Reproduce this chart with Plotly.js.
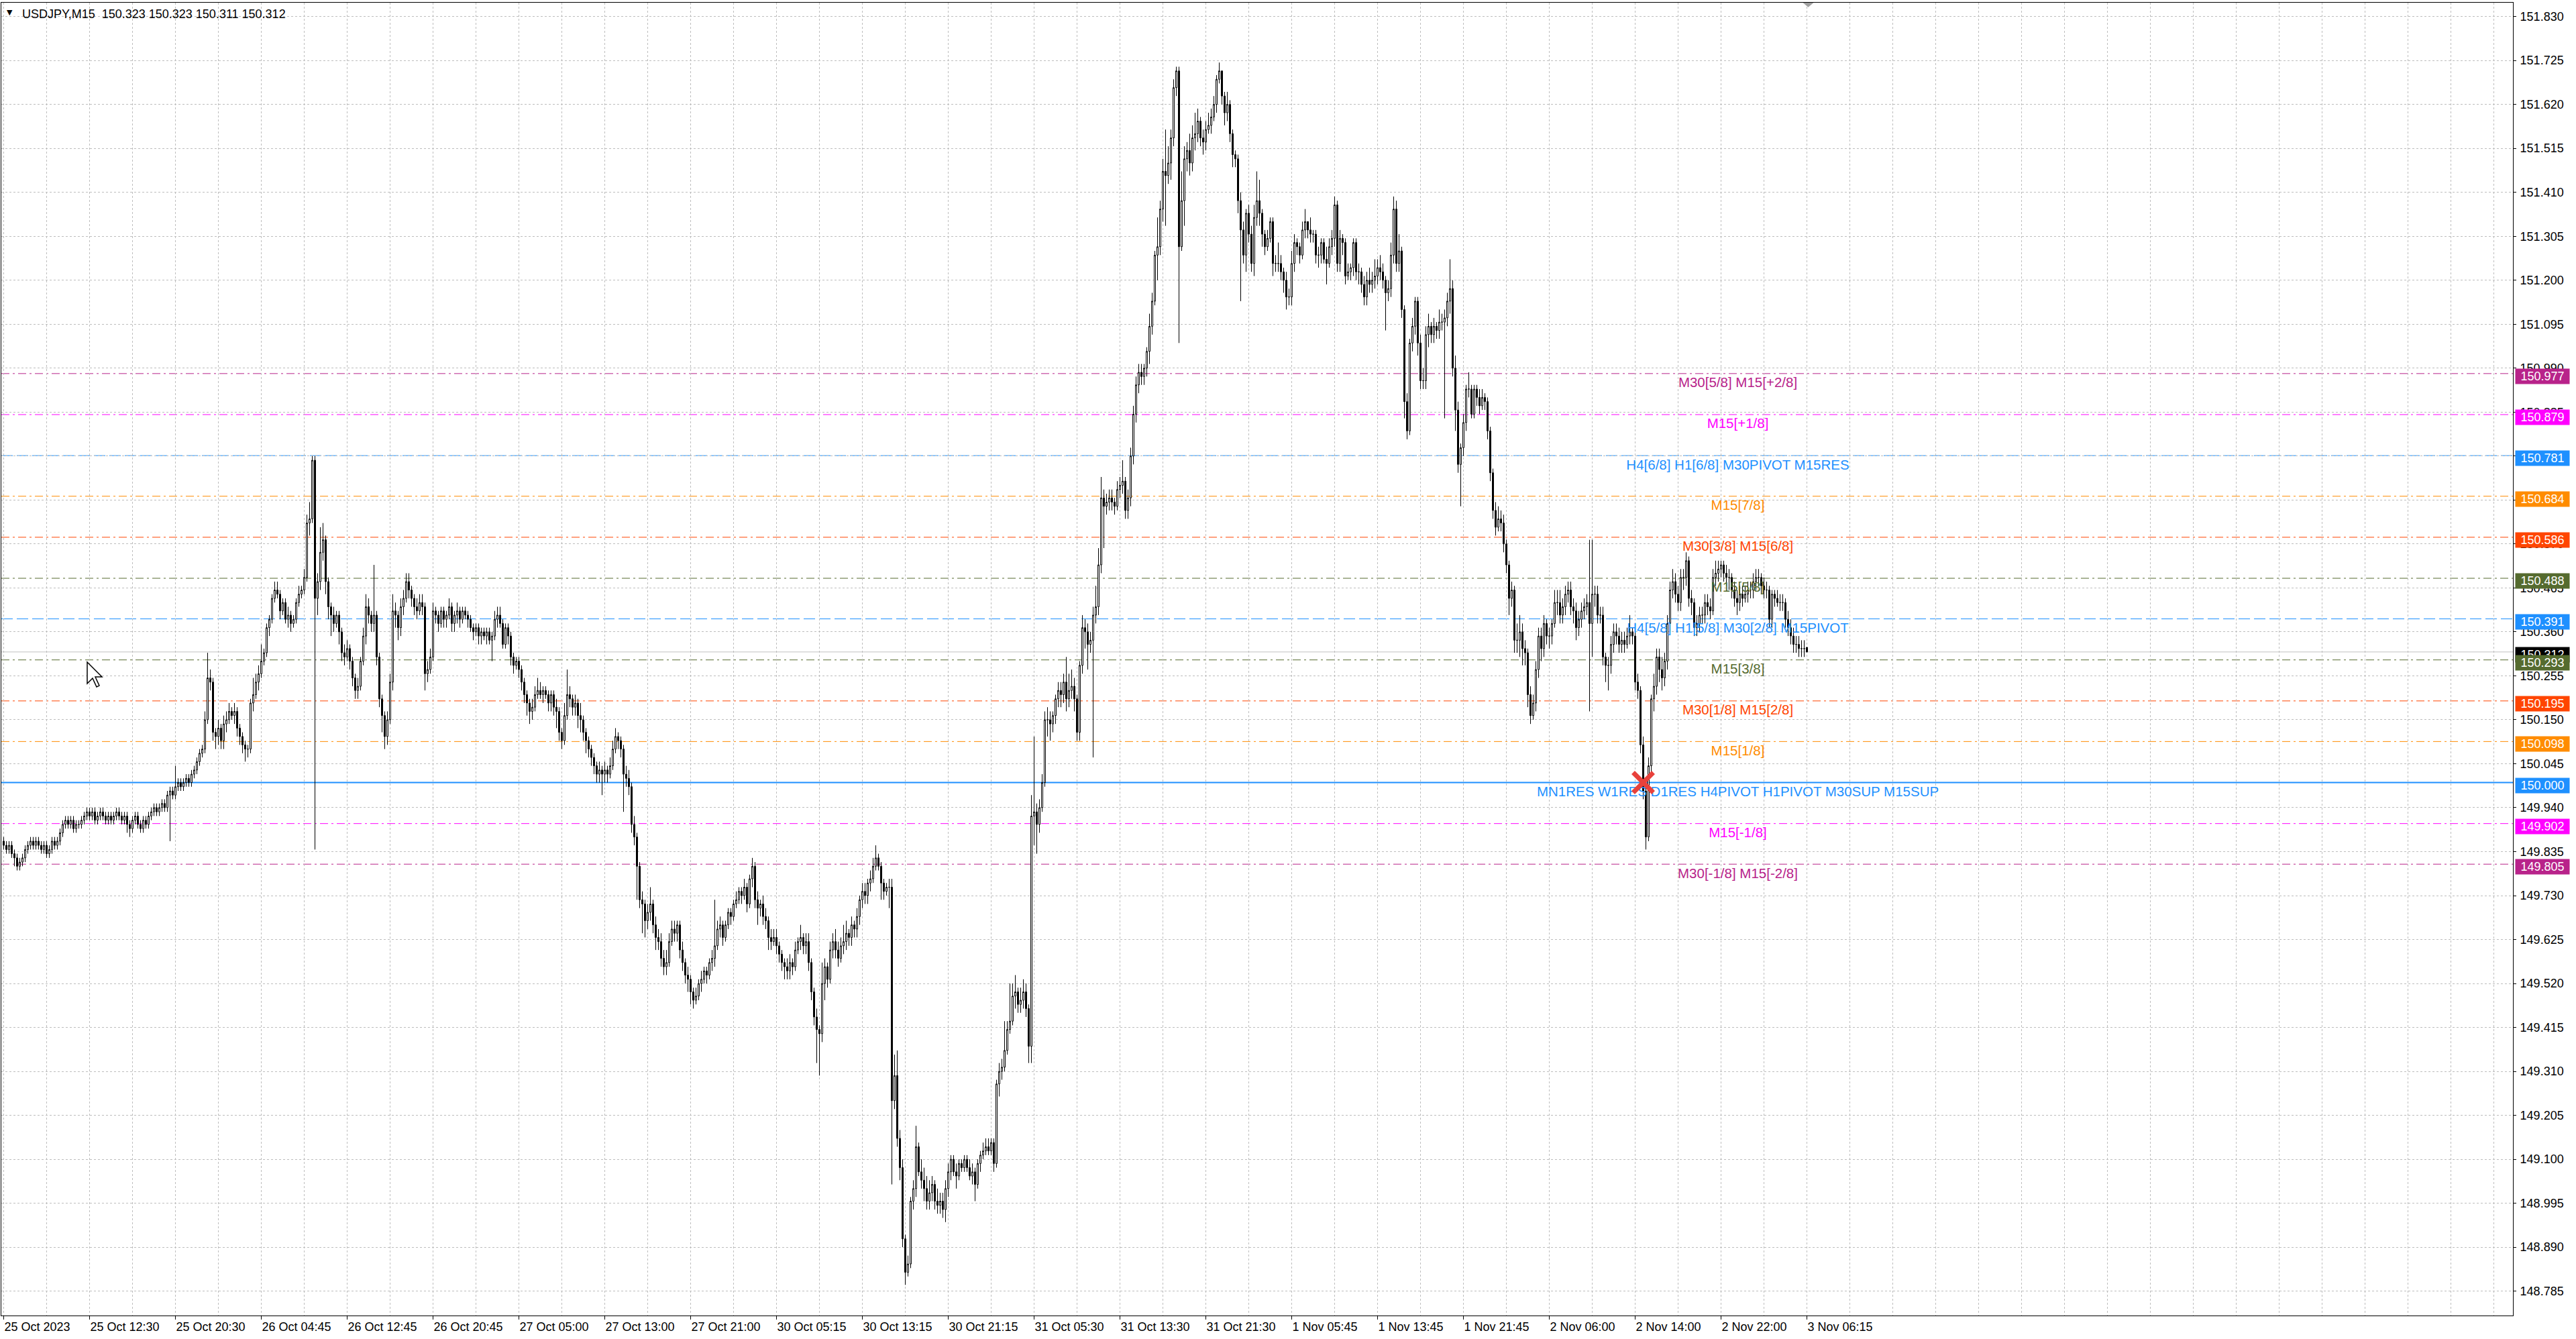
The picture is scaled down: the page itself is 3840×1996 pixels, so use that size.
<!DOCTYPE html>
<html>
<head>
<meta charset="utf-8">
<script src="https://cdn.plot.ly/plotly-3.0.1.min.js"></script>
<style>
html,body{margin:0;padding:0;background:#fff;}
#chart{width:3840px;height:1996px;}
</style>
</head>
<body>
<div id="chart"></div>
<script>
// ---------------- DATA (USDJPY, M15) ----------------
const open = [
149.86,149.85,149.84,149.85,149.83,149.82,149.80,149.81,149.82,149.84,
149.85,149.86,149.85,149.86,149.85,149.84,149.85,149.83,149.84,149.86,
149.85,149.86,149.88,149.90,149.91,149.90,149.91,149.89,149.90,149.90,
149.91,149.92,149.93,149.92,149.93,149.91,149.92,149.93,149.92,149.91,
149.92,149.91,149.92,149.93,149.92,149.91,149.92,149.90,149.89,149.91,
149.92,149.90,149.89,149.91,149.90,149.92,149.93,149.94,149.93,149.94,
149.95,149.94,149.97,149.98,149.97,149.99,150.00,149.99,150.00,150.01,
150.00,150.02,150.03,150.05,150.07,150.08,150.15,150.25,150.24,150.12,
150.11,150.13,150.10,150.14,150.15,150.17,150.16,150.17,150.13,150.11,
150.09,150.08,150.08,150.19,150.21,150.24,150.26,150.29,150.31,150.37,
150.39,150.44,150.46,150.45,150.41,150.43,150.39,150.40,150.38,150.39,
150.43,150.45,150.46,150.49,150.62,150.63,150.77,150.44,150.48,150.55,
150.58,150.48,150.42,150.40,150.38,150.40,150.36,150.31,150.30,150.32,
150.29,150.25,150.22,150.23,150.29,150.35,150.42,150.40,150.38,150.40,
150.30,150.20,150.16,150.11,150.15,150.24,150.41,150.40,150.37,150.42,
150.44,150.48,150.46,150.44,150.42,150.41,150.43,150.42,150.26,150.27,
150.30,150.41,150.40,150.38,150.41,150.39,150.40,150.42,150.38,150.40,
150.41,150.39,150.41,150.40,150.39,150.37,150.36,150.37,150.35,150.36,
150.35,150.36,150.34,150.35,150.39,150.40,150.38,150.33,150.37,150.35,
150.30,150.28,150.29,150.27,150.24,150.21,150.19,150.17,150.18,150.21,
150.22,150.21,150.22,150.21,150.19,150.21,150.18,150.17,150.12,150.10,
150.16,150.21,150.20,150.18,150.19,150.16,150.15,150.12,150.10,150.08,
150.06,150.04,150.02,150.03,150.02,150.03,150.02,150.04,150.08,150.11,
150.10,150.08,150.02,150.01,149.99,149.90,149.87,149.80,149.72,149.71,
149.67,149.69,149.71,149.66,149.63,149.62,149.58,149.56,149.57,149.62,
149.65,149.64,149.66,149.60,149.57,149.54,149.53,149.50,149.48,149.49,
149.52,149.53,149.55,149.54,149.57,149.58,149.61,149.65,149.66,149.63,
149.66,149.69,149.68,149.71,149.72,149.74,149.73,149.75,149.71,149.77,
149.80,149.72,149.70,149.71,149.68,149.67,149.63,149.62,149.63,149.61,
149.59,149.57,149.56,149.55,149.57,149.56,149.60,149.62,149.63,149.61,
149.62,149.57,149.50,149.44,149.41,149.40,149.52,149.56,149.53,149.60,
149.62,149.60,149.58,149.61,149.62,149.64,149.63,149.66,149.65,149.68,
149.72,149.74,149.73,149.76,149.77,149.80,149.82,149.80,149.76,149.74,
149.75,149.75,149.24,149.30,149.15,149.08,148.91,148.83,148.85,149.00,
149.03,149.13,149.07,149.05,149.03,149.00,149.02,149.04,149.00,148.99,
149.00,148.98,149.03,149.07,149.10,149.07,149.06,149.09,149.08,149.10,
149.08,149.06,149.07,149.04,149.09,149.11,149.12,149.13,149.12,149.14,
149.09,149.28,149.31,149.32,149.36,149.41,149.43,149.49,149.50,149.47,
149.48,149.50,149.46,149.37,149.92,149.93,149.90,149.94,150.00,150.15,
150.15,150.14,150.16,150.20,150.22,150.21,150.24,150.20,150.22,150.23,
150.20,150.12,150.28,150.37,150.36,150.33,150.34,150.40,150.42,150.52,
150.68,150.66,150.67,150.68,150.67,150.66,150.70,150.71,150.72,150.65,
150.68,150.78,150.88,150.95,150.98,150.97,150.99,151.03,151.09,151.15,
151.26,151.28,151.37,151.46,151.45,151.48,151.54,151.66,151.70,151.28,
151.39,151.49,151.51,151.48,151.54,151.55,151.58,151.54,151.53,151.56,
151.57,151.59,151.62,151.68,151.70,151.64,151.60,151.62,151.55,151.50,
151.49,151.39,151.32,151.26,151.36,151.31,151.24,151.35,151.39,151.36,
151.31,151.28,151.30,151.34,151.24,151.24,151.24,151.22,151.20,151.16,
151.16,151.24,151.29,151.28,151.26,151.32,151.34,151.32,151.31,151.31,
151.26,151.26,151.29,151.25,151.24,151.28,151.30,151.38,151.24,151.30,
151.29,151.21,151.22,151.23,151.29,151.22,151.22,151.19,151.16,151.20,
151.19,151.20,151.21,151.23,151.22,151.20,151.17,151.18,151.26,151.37,
151.24,151.27,151.13,150.91,150.84,151.05,151.09,151.15,151.05,150.96,
150.96,151.07,151.09,151.07,151.09,151.08,151.10,151.10,151.11,151.15,
151.18,150.99,150.89,150.76,150.80,150.86,150.94,150.94,150.88,150.94,
150.92,150.90,150.92,150.91,150.84,150.74,150.65,150.61,150.63,150.62,
150.57,150.52,150.44,150.46,150.34,150.34,150.36,150.32,150.31,150.21,
150.16,150.19,150.27,150.35,150.32,150.38,150.35,150.35,150.38,150.43,
150.43,150.40,150.42,150.45,150.46,150.42,150.41,150.37,150.39,150.41,
150.42,150.43,150.38,150.45,150.45,150.40,150.40,150.30,150.28,150.28,
150.33,150.36,150.35,150.33,150.34,150.33,150.35,150.36,150.35,150.24,
150.22,150.09,149.98,149.87,150.04,150.20,150.23,150.30,150.27,150.25,
150.29,150.38,150.46,150.48,150.45,150.43,150.49,150.49,150.53,150.44,
150.43,150.37,150.38,150.40,150.40,150.43,150.42,150.41,150.49,150.50,
150.51,150.52,150.50,150.49,150.49,150.46,150.44,150.43,150.45,150.44,
150.45,150.46,150.46,150.48,150.49,150.49,150.47,150.46,150.46,150.39,
150.45,150.44,150.43,150.43,150.43,150.39,150.37,150.35,150.33,150.33,
150.32,150.32,150.323
];
const high = [
149.87,149.86,149.86,149.86,149.84,149.83,149.82,149.83,149.85,149.86,
149.87,149.87,149.87,149.87,149.86,149.86,149.86,149.85,149.87,149.87,
149.87,149.89,149.91,149.92,149.92,149.92,149.92,149.91,149.91,149.92,
149.93,149.94,149.94,149.94,149.94,149.93,149.94,149.94,149.93,149.93,
149.93,149.93,149.94,149.94,149.93,149.93,149.93,149.91,149.92,149.93,
149.93,149.91,149.92,149.92,149.93,149.94,149.95,149.95,149.95,149.96,
149.96,149.98,149.99,149.99,150.04,150.01,150.01,150.01,150.02,150.02,
150.03,150.04,150.06,150.08,150.09,150.17,150.31,150.27,150.25,150.13,
150.15,150.14,150.16,150.17,150.19,150.18,150.19,150.18,150.14,150.12,
150.10,150.09,150.20,150.25,150.26,150.28,150.33,150.32,150.38,150.40,
150.45,150.48,150.48,150.46,150.44,150.44,150.42,150.41,150.40,150.44,
150.47,150.47,150.51,150.64,150.67,150.78,150.78,150.50,150.61,150.62,
150.59,150.49,150.43,150.42,150.41,150.41,150.37,150.33,150.34,150.33,
150.30,150.26,150.25,150.30,150.37,150.45,150.44,150.41,150.52,150.41,
150.31,150.21,150.17,150.17,150.26,150.45,150.43,150.41,150.44,150.46,
150.50,150.50,150.47,150.45,150.44,150.45,150.45,150.43,150.29,150.32,
150.43,150.42,150.41,150.42,150.42,150.41,150.44,150.43,150.41,150.43,
150.42,150.42,150.42,150.41,150.40,150.38,150.38,150.38,150.37,150.37,
150.37,150.37,150.36,150.41,150.42,150.42,150.39,150.38,150.38,150.36,
150.31,150.30,150.30,150.28,150.25,150.22,150.20,150.20,150.23,150.25,
150.24,150.23,150.23,150.22,150.22,150.22,150.20,150.18,150.13,150.19,
150.27,150.23,150.21,150.21,150.20,150.19,150.16,150.13,150.11,150.09,
150.07,150.05,150.05,150.04,150.05,150.04,150.06,150.10,150.13,150.12,
150.11,150.09,150.04,150.03,150.00,149.92,149.88,149.81,149.74,149.72,
149.71,149.75,149.72,149.68,149.65,149.64,149.60,149.60,149.64,149.67,
149.67,149.67,149.67,149.62,149.58,149.56,149.54,149.51,149.51,149.53,
149.55,149.56,149.56,149.58,149.60,149.72,149.67,149.68,149.67,149.67,
149.70,149.70,149.72,149.74,149.75,149.75,149.77,149.76,149.78,149.82,
149.81,149.74,149.72,149.73,149.70,149.68,149.65,149.65,149.65,149.62,
149.60,149.58,149.58,149.59,149.58,149.62,149.63,149.66,149.64,149.64,
149.64,149.58,149.51,149.46,149.42,149.57,149.58,149.57,149.62,149.64,
149.65,149.62,149.63,149.66,149.67,149.65,149.68,149.67,149.70,149.73,
149.76,149.76,149.77,149.79,149.82,149.85,149.83,149.81,149.77,149.76,
149.77,149.77,149.35,149.36,149.17,149.10,148.92,148.87,149.01,149.05,
149.18,149.14,149.10,149.08,149.06,149.05,149.06,149.05,149.03,149.02,
149.02,149.05,149.09,149.11,149.11,149.09,149.10,149.10,149.11,149.11,
149.10,149.09,149.08,149.10,149.12,149.14,149.15,149.15,149.15,149.15,
149.29,149.33,149.34,149.43,149.43,149.52,149.52,149.54,149.51,149.51,
149.53,149.52,149.47,149.97,150.11,149.95,149.96,150.02,150.17,150.18,
150.17,150.17,150.21,150.24,150.24,150.26,150.30,150.26,150.27,150.25,
150.21,150.29,150.40,150.39,150.38,150.36,150.42,150.47,150.56,150.73,
150.70,150.69,150.70,150.70,150.68,150.72,150.73,150.77,150.73,150.70,
150.80,150.90,150.97,151.00,151.00,151.00,151.04,151.12,151.17,151.27,
151.35,151.39,151.49,151.56,151.52,151.56,151.68,151.71,151.71,151.46,
151.52,151.53,151.55,151.57,151.60,151.61,151.59,151.56,151.58,151.60,
151.61,151.64,151.69,151.72,151.66,151.65,151.65,151.63,151.56,151.51,
151.50,151.41,151.34,151.37,151.38,151.33,151.38,151.46,151.44,151.37,
151.32,151.32,151.35,151.35,151.26,151.29,151.26,151.23,151.22,151.18,
151.27,151.31,151.30,151.29,151.34,151.37,151.34,151.35,151.32,151.32,
151.28,151.30,151.30,151.28,151.30,151.32,151.40,151.39,151.32,151.31,
151.30,151.24,151.24,151.30,151.30,151.24,151.23,151.21,151.22,151.23,
151.22,151.25,151.25,151.26,151.24,151.21,151.20,151.29,151.40,151.39,
151.31,151.28,151.14,150.93,151.06,151.11,151.16,151.16,151.07,150.99,
151.09,151.12,151.10,151.11,151.10,151.13,151.12,151.13,151.17,151.25,
151.20,151.02,150.91,150.81,150.88,150.95,150.98,150.95,150.95,150.95,
150.94,150.94,150.93,150.92,150.85,150.75,150.67,150.66,150.65,150.64,
150.58,150.53,150.48,150.47,150.38,150.40,150.38,150.34,150.32,150.23,
150.21,150.29,150.37,150.37,150.40,150.39,150.37,150.39,150.46,150.46,
150.46,150.44,150.47,150.48,150.48,150.44,150.43,150.41,150.43,150.44,
150.45,150.58,150.58,150.47,150.47,150.42,150.42,150.31,150.30,150.35,
150.38,150.38,150.37,150.36,150.36,150.37,150.40,150.37,150.36,150.26,
150.23,150.11,150.00,150.06,150.21,150.26,150.32,150.32,150.30,150.31,
150.40,150.48,150.51,150.50,150.47,150.51,150.51,150.55,150.54,150.46,
150.44,150.40,150.42,150.42,150.45,150.45,150.44,150.51,150.53,150.53,
150.53,150.53,150.52,150.51,150.50,150.48,150.46,150.47,150.47,150.47,
150.48,150.48,150.50,150.51,150.51,150.50,150.49,150.48,150.47,150.46,
150.46,150.46,150.45,150.45,150.44,150.41,150.39,150.37,150.35,150.35,
150.34,150.34,150.323
];
const low = [
149.84,149.83,149.83,149.82,149.80,149.79,149.79,149.80,149.81,149.83,
149.84,149.84,149.84,149.84,149.83,149.83,149.82,149.82,149.83,149.84,
149.84,149.85,149.87,149.89,149.89,149.89,149.88,149.88,149.89,149.89,
149.90,149.91,149.91,149.91,149.90,149.90,149.91,149.91,149.90,149.90,
149.90,149.90,149.91,149.91,149.90,149.90,149.88,149.87,149.88,149.90,
149.89,149.88,149.88,149.89,149.89,149.91,149.92,149.92,149.92,149.93,
149.93,149.93,149.86,149.96,149.96,149.98,149.98,149.98,149.99,149.99,
149.99,150.01,150.02,150.04,150.06,150.07,150.14,150.22,150.10,150.08,
150.09,150.08,150.08,150.12,150.14,150.15,150.14,150.11,150.09,150.07,
150.05,150.06,150.07,150.17,150.20,150.22,150.25,150.28,150.30,150.35,
150.38,150.43,150.44,150.39,150.40,150.38,150.37,150.36,150.37,150.38,
150.42,150.44,150.45,150.48,150.59,150.62,149.84,150.40,150.46,150.53,
150.45,150.39,150.35,150.36,150.37,150.33,150.29,150.28,150.29,150.27,
150.23,150.20,150.20,150.22,150.28,150.33,150.38,150.36,150.36,150.28,
150.18,150.12,150.08,150.09,150.14,150.22,150.37,150.34,150.35,150.40,
150.43,150.44,150.42,150.40,150.39,150.40,150.40,150.22,150.24,150.26,
150.29,150.38,150.36,150.37,150.37,150.37,150.39,150.36,150.36,150.38,
150.37,150.38,150.39,150.37,150.36,150.34,150.35,150.33,150.33,150.34,
150.33,150.33,150.29,150.34,150.37,150.37,150.32,150.32,150.33,150.28,
150.26,150.27,150.25,150.22,150.19,150.16,150.14,150.15,150.17,150.20,
150.20,150.19,150.20,150.17,150.17,150.16,150.13,150.10,150.08,150.09,
150.15,150.18,150.16,150.16,150.13,150.12,150.10,150.07,150.06,150.04,
150.02,150.00,150.00,149.97,150.00,150.00,150.01,150.03,150.07,150.08,
150.06,149.93,149.99,149.97,149.88,149.85,149.72,149.70,149.64,149.63,
149.65,149.67,149.64,149.60,149.60,149.56,149.54,149.54,149.56,149.61,
149.62,149.62,149.58,149.55,149.52,149.50,149.47,149.46,149.47,149.48,
149.50,149.52,149.52,149.53,149.55,149.56,149.60,149.63,149.61,149.62,
149.65,149.66,149.67,149.70,149.71,149.71,149.72,149.69,149.70,149.75,
149.70,149.66,149.68,149.66,149.65,149.60,149.60,149.61,149.59,149.57,
149.55,149.53,149.53,149.53,149.54,149.55,149.59,149.60,149.59,149.59,
149.55,149.48,149.42,149.33,149.30,149.38,149.48,149.51,149.52,149.58,
149.58,149.56,149.57,149.59,149.60,149.61,149.61,149.63,149.63,149.66,
149.70,149.71,149.71,149.74,149.76,149.79,149.79,149.72,149.72,149.73,
149.70,149.04,149.22,149.13,149.05,148.89,148.80,148.82,148.84,148.98,
149.01,149.06,149.03,149.00,148.98,148.98,149.00,148.98,148.97,148.97,
148.96,148.95,149.01,149.05,149.06,149.03,149.05,149.07,149.07,149.07,
149.05,149.04,149.00,149.03,149.07,149.10,149.11,149.11,149.11,149.07,
149.08,149.25,149.29,149.31,149.35,149.40,149.42,149.46,149.45,149.45,
149.46,149.44,149.33,149.33,149.85,149.83,149.88,149.93,149.99,150.11,
150.10,150.12,150.14,150.18,150.18,150.19,150.17,150.18,150.20,150.17,
150.10,150.10,150.26,150.32,150.27,150.31,150.06,150.38,150.40,150.50,
150.56,150.64,150.65,150.65,150.64,150.65,150.68,150.69,150.63,150.63,
150.66,150.76,150.86,150.93,150.95,150.95,150.97,151.00,151.07,151.14,
151.20,151.26,151.34,151.33,151.43,151.44,151.52,151.64,151.05,151.27,
151.33,151.46,151.45,151.46,151.51,151.53,151.52,151.50,151.51,151.55,
151.55,151.58,151.60,151.67,151.62,151.57,151.58,151.53,151.47,151.47,
151.36,151.15,151.24,151.22,151.29,151.22,151.21,151.33,151.33,151.28,
151.26,151.27,151.29,151.21,151.22,151.22,151.20,151.17,151.13,151.14,
151.14,151.22,151.26,151.24,151.25,151.30,151.30,151.29,151.29,151.24,
151.23,151.24,151.24,151.19,151.23,151.26,151.28,151.22,151.22,151.26,
151.19,151.20,151.20,151.21,151.20,151.19,151.17,151.14,151.14,151.17,
151.17,151.18,151.19,151.20,151.18,151.08,151.15,151.16,151.24,151.22,
151.22,151.11,150.87,150.82,150.83,151.03,151.07,151.02,150.94,150.94,
150.94,151.04,151.05,151.05,151.06,151.06,151.08,150.87,151.09,151.12,
150.97,150.84,150.74,150.66,150.78,150.84,150.92,150.87,150.87,150.90,
150.88,150.89,150.89,150.82,150.72,150.63,150.59,150.60,150.60,150.55,
150.50,150.40,150.42,150.31,150.31,150.30,150.28,150.28,150.18,150.14,
150.15,150.17,150.25,150.29,150.30,150.33,150.32,150.33,150.37,150.40,
150.38,150.38,150.40,150.43,150.40,150.38,150.34,150.35,150.37,150.39,
150.40,150.17,150.30,150.42,150.38,150.38,150.28,150.24,150.22,150.26,
150.31,150.33,150.31,150.31,150.31,150.32,150.33,150.33,150.22,150.20,
150.07,149.96,149.84,149.86,150.02,150.17,150.21,150.24,150.22,150.23,
150.27,150.36,150.44,150.43,150.41,150.41,150.46,150.47,150.42,150.40,
150.35,150.35,150.36,150.38,150.38,150.40,150.39,150.40,150.47,150.48,
150.49,150.48,150.47,150.46,150.44,150.42,150.40,150.41,150.42,150.43,
150.43,150.44,150.44,150.46,150.47,150.45,150.44,150.44,150.37,150.37,
150.42,150.42,150.41,150.41,150.37,150.35,150.33,150.31,150.31,150.30,
150.30,150.30,150.311
];
const close = [
149.85,149.84,149.85,149.83,149.82,149.80,149.81,149.82,149.84,149.85,
149.86,149.85,149.86,149.85,149.84,149.85,149.83,149.84,149.86,149.85,
149.86,149.88,149.90,149.91,149.90,149.91,149.89,149.90,149.90,149.91,
149.92,149.93,149.92,149.93,149.91,149.92,149.93,149.92,149.91,149.92,
149.91,149.92,149.93,149.92,149.91,149.92,149.90,149.89,149.91,149.92,
149.90,149.89,149.91,149.90,149.92,149.93,149.94,149.93,149.94,149.95,
149.94,149.97,149.98,149.97,149.99,150.00,149.99,150.00,150.01,150.00,
150.02,150.03,150.05,150.07,150.08,150.15,150.25,150.24,150.12,150.11,
150.13,150.10,150.14,150.15,150.17,150.16,150.17,150.13,150.11,150.09,
150.08,150.08,150.19,150.21,150.24,150.26,150.29,150.31,150.37,150.39,
150.44,150.46,150.45,150.41,150.43,150.39,150.40,150.38,150.39,150.43,
150.45,150.46,150.49,150.62,150.63,150.77,150.44,150.48,150.55,150.58,
150.48,150.42,150.40,150.38,150.40,150.36,150.31,150.30,150.32,150.29,
150.25,150.22,150.23,150.29,150.35,150.42,150.40,150.38,150.40,150.30,
150.20,150.16,150.11,150.15,150.24,150.41,150.40,150.37,150.42,150.44,
150.48,150.46,150.44,150.42,150.41,150.43,150.42,150.26,150.27,150.30,
150.41,150.40,150.38,150.41,150.39,150.40,150.42,150.38,150.40,150.41,
150.39,150.41,150.40,150.39,150.37,150.36,150.37,150.35,150.36,150.35,
150.36,150.34,150.35,150.39,150.40,150.38,150.33,150.37,150.35,150.30,
150.28,150.29,150.27,150.24,150.21,150.19,150.17,150.18,150.21,150.22,
150.21,150.22,150.21,150.19,150.21,150.18,150.17,150.12,150.10,150.16,
150.21,150.20,150.18,150.19,150.16,150.15,150.12,150.10,150.08,150.06,
150.04,150.02,150.03,150.02,150.03,150.02,150.04,150.08,150.11,150.10,
150.08,150.02,150.01,149.99,149.90,149.87,149.80,149.72,149.71,149.67,
149.69,149.71,149.66,149.63,149.62,149.58,149.56,149.57,149.62,149.65,
149.64,149.66,149.60,149.57,149.54,149.53,149.50,149.48,149.49,149.52,
149.53,149.55,149.54,149.57,149.58,149.61,149.65,149.66,149.63,149.66,
149.69,149.68,149.71,149.72,149.74,149.73,149.75,149.71,149.77,149.80,
149.72,149.70,149.71,149.68,149.67,149.63,149.62,149.63,149.61,149.59,
149.57,149.56,149.55,149.57,149.56,149.60,149.62,149.63,149.61,149.62,
149.57,149.50,149.44,149.41,149.40,149.52,149.56,149.53,149.60,149.62,
149.60,149.58,149.61,149.62,149.64,149.63,149.66,149.65,149.68,149.72,
149.74,149.73,149.76,149.77,149.80,149.82,149.80,149.76,149.74,149.75,
149.75,149.24,149.30,149.15,149.08,148.91,148.83,148.85,149.00,149.03,
149.13,149.07,149.05,149.03,149.00,149.02,149.04,149.00,148.99,149.00,
148.98,149.03,149.07,149.10,149.07,149.06,149.09,149.08,149.10,149.08,
149.06,149.07,149.04,149.09,149.11,149.12,149.13,149.12,149.14,149.09,
149.28,149.31,149.32,149.36,149.41,149.43,149.49,149.50,149.47,149.48,
149.50,149.46,149.37,149.92,149.93,149.90,149.94,150.00,150.15,150.15,
150.14,150.16,150.20,150.22,150.21,150.24,150.20,150.22,150.23,150.20,
150.12,150.28,150.37,150.36,150.33,150.34,150.40,150.42,150.52,150.68,
150.66,150.67,150.68,150.67,150.66,150.70,150.71,150.72,150.65,150.68,
150.78,150.88,150.95,150.98,150.97,150.99,151.03,151.09,151.15,151.26,
151.28,151.37,151.46,151.45,151.48,151.54,151.66,151.70,151.28,151.39,
151.49,151.51,151.48,151.54,151.55,151.58,151.54,151.53,151.56,151.57,
151.59,151.62,151.68,151.70,151.64,151.60,151.62,151.55,151.50,151.49,
151.39,151.32,151.26,151.36,151.31,151.24,151.35,151.39,151.36,151.31,
151.28,151.30,151.34,151.24,151.24,151.24,151.22,151.20,151.16,151.16,
151.24,151.29,151.28,151.26,151.32,151.34,151.32,151.31,151.31,151.26,
151.26,151.29,151.25,151.24,151.28,151.30,151.38,151.24,151.30,151.29,
151.21,151.22,151.23,151.29,151.22,151.22,151.19,151.16,151.20,151.19,
151.20,151.21,151.23,151.22,151.20,151.17,151.18,151.26,151.37,151.24,
151.27,151.13,150.91,150.84,151.05,151.09,151.15,151.05,150.96,150.96,
151.07,151.09,151.07,151.09,151.08,151.10,151.10,151.11,151.15,151.18,
150.99,150.89,150.76,150.80,150.86,150.94,150.94,150.88,150.94,150.92,
150.90,150.92,150.91,150.84,150.74,150.65,150.61,150.63,150.62,150.57,
150.52,150.44,150.46,150.34,150.34,150.36,150.32,150.31,150.21,150.16,
150.19,150.27,150.35,150.32,150.38,150.35,150.35,150.38,150.43,150.43,
150.40,150.42,150.45,150.46,150.42,150.41,150.37,150.39,150.41,150.42,
150.43,150.38,150.45,150.45,150.40,150.40,150.30,150.28,150.28,150.33,
150.36,150.35,150.33,150.34,150.33,150.35,150.36,150.35,150.24,150.22,
150.09,149.98,149.87,150.04,150.20,150.23,150.30,150.27,150.25,150.29,
150.38,150.46,150.48,150.45,150.43,150.49,150.49,150.53,150.44,150.43,
150.37,150.38,150.40,150.40,150.43,150.42,150.41,150.49,150.50,150.51,
150.52,150.50,150.49,150.49,150.46,150.44,150.43,150.45,150.44,150.45,
150.46,150.46,150.48,150.49,150.49,150.47,150.46,150.46,150.39,150.45,
150.44,150.43,150.43,150.43,150.39,150.37,150.35,150.33,150.33,150.32,
150.32,150.32,150.312
];

// time labels (one every 32 bars)
const timeLabels = ['25 Oct 2023','25 Oct 12:30','25 Oct 20:30','26 Oct 04:45','26 Oct 12:45','26 Oct 20:45',
  '27 Oct 05:00','27 Oct 13:00','27 Oct 21:00','30 Oct 05:15','30 Oct 13:15','30 Oct 21:15',
  '31 Oct 05:30','31 Oct 13:30','31 Oct 21:30','1 Nov 05:45','1 Nov 13:45','1 Nov 21:45',
  '2 Nov 06:00','2 Nov 14:00','2 Nov 22:00','3 Nov 06:15'];
const priceTicks = [148.785,148.890,148.995,149.100,149.205,149.310,149.415,149.520,149.625,149.730,
  149.835,149.940,150.045,150.150,150.255,150.360,150.465,150.570,150.675,150.780,
  150.885,150.990,151.095,151.200,151.305,151.410,151.515,151.620,151.725,151.830];

// Murrey / pivot levels
const levelPrices = [150.977,150.879,150.781,150.684,150.586,150.488,150.391,150.293,150.195,150.098,150.000,149.902,149.805];
const levelNames = ['M30[5/8] M15[+2/8]','M15[+1/8]','H4[6/8] H1[6/8] M30PIVOT M15RES','M15[7/8]','M30[3/8] M15[6/8]',
  'M15[5/8]','H4[5/8] H1[5/8] M30[2/8] M15PIVOT','M15[3/8]','M30[1/8] M15[2/8]','M15[1/8]',
  'MN1RES W1RES D1RES H4PIVOT H1PIVOT M30SUP M15SUP','M15[-1/8]','M30[-1/8] M15[-2/8]'];
const levelKinds = ['violet','magenta','blue','orange','red','olive','blue','olive','red','orange','main','magenta','violet'];
const lastPrice = 150.312;
const signalBar = [611];
const signalPrice = [150.000];
const titleText = 'USDJPY,M15\u00a0\u00a0150.323 150.323 150.311 150.312';

// ---------------- STYLES / GEOMETRY ----------------
const kindStyle = {
  violet:  {color:'#B8238A', dash:'12px,5px,3px,5px', width:1},
  magenta: {color:'#FF00FF', dash:'12px,5px,3px,5px', width:1},
  blue:    {color:'#1E90FF', dash:'17px,6px', width:1},
  orange:  {color:'#FF8C00', dash:'12px,5px,3px,5px', width:1},
  red:     {color:'#FF4500', dash:'12px,5px,3px,5px', width:1},
  olive:   {color:'#556B2F', dash:'12px,5px,3px,5px', width:1},
  main:    {color:'#1E90FF', dash:'solid', width:2}
};
const UI_FONT = 'Liberation Sans, Arial, sans-serif';
const LABEL_BAR = 646.25;
const GRID = '#BDBDBD';
const W = 3840, H = 1996;
const M = {l:2, r:94, t:4, b:35};
const PLOT_W = W - M.l - M.r, PLOT_H = H - M.t - M.b;
const Y_RANGE = [148.7268, 151.8630];
const PX_PER_PRICE = PLOT_H / (Y_RANGE[1] - Y_RANGE[0]);
const LABEL_DROP = 5 / PX_PER_PRICE;   // labels sit a few px lower under their line

const bars = close.map((_, i) => i);
const tickBars = timeLabels.map((_, i) => i * 32);

const candles = {
  type:'candlestick', x:bars, open:open, high:high, low:low, close:close,
  increasing:{line:{color:'#000000', width:1}, fillcolor:'#FFFFFF'},
  decreasing:{line:{color:'#000000', width:1}, fillcolor:'#000000'},
  whiskerwidth:0, hoverinfo:'skip', showlegend:false
};

const levelText = {
  type:'scatter', mode:'text', x:levelPrices.map(() => LABEL_BAR), y:levelPrices.map(p => p - LABEL_DROP),
  text:levelNames, textposition:'bottom center',
  textfont:{family:UI_FONT, size:20.5, color:levelKinds.map(k => kindStyle[k].color)},
  hoverinfo:'skip', showlegend:false, cliponaxis:false
};

const signal = {
  type:'scatter', mode:'markers', x:signalBar, y:signalPrice,
  marker:{symbol:'x-thin-open', size:30, color:'#E8413B', line:{width:7, color:'#E8413B'}},
  hoverinfo:'skip', showlegend:false
};

const shapes = levelPrices.map((p, i) => {
  const s = kindStyle[levelKinds[i]];
  return {type:'line', xref:'paper', x0:0, x1:1, yref:'y', y0:p, y1:p, layer:'below',
          line:{color:s.color, width:s.width, dash:s.dash}};
});
shapes.push({type:'line', xref:'paper', x0:0, x1:1, yref:'y', y0:lastPrice, y1:lastPrice, layer:'below',
             line:{color:'#C0C0C0', width:1}});
// chart-shift marker at top over the last bar
const lastIdx = close.length - 1;
shapes.push({type:'path', xref:'x', yref:'paper',
  path:`M ${lastIdx - 1.5},1 L ${lastIdx + 2.5},1 L ${lastIdx + 0.5},0.9965 Z`,
  fillcolor:'#A0A0A0', line:{width:0}, layer:'above'});
// mouse pointer left on the chart (screen decoration), outline given in screen pixels
const cursorTip = [130, 987];
const cursorOutline = [[0,0],[0,32],[8,24],[14,37],[18,35],[12,22],[22,22]];
const toPaper = ([dx, dy]) => [((cursorTip[0] + dx) - M.l) / PLOT_W, 1 - ((cursorTip[1] + dy) - M.t) / PLOT_H];
shapes.push({type:'path', xref:'paper', yref:'paper', layer:'above',
  path:'M ' + cursorOutline.map(p => toPaper(p).join(',')).join(' L ') + ' Z',
  fillcolor:'#FFFFFF', line:{color:'#000000', width:1.5}});

function priceBox(p, color) {
  return {xref:'paper', x:1, xanchor:'left', xshift:3, yref:'y', y:p, yanchor:'middle', yshift:-4,
    text:p.toFixed(3), showarrow:false, bgcolor:color, width:80, height:22, borderpad:0,
    align:'center', font:{family:UI_FONT, size:18, color:'#FFFFFF'}};
}
const annotations = [priceBox(lastPrice, '#000000')];
levelPrices.forEach((p, i) => annotations.push(priceBox(p, kindStyle[levelKinds[i]].color)));
annotations.push({xref:'paper', yref:'paper', x:0.0016, y:0.9925, xanchor:'left', yanchor:'middle',
  text:'▼', showarrow:false, font:{family:'DejaVu Sans', size:11, color:'#000'}});

const layout = {
  width:W, height:H,
  margin:{l:M.l, r:M.r, t:M.t, b:M.b, pad:0},
  paper_bgcolor:'#FFFFFF', plot_bgcolor:'#FFFFFF',
  showlegend:false,
  boxgap:0.5, boxgroupgap:0,
  title:{text:titleText, xref:'container', yref:'container', x:33/W, xanchor:'left',
         y:1 - 21/H, yanchor:'middle', font:{family:UI_FONT, size:18, color:'#000'}, pad:{t:0,b:0,l:0,r:0}},
  xaxis:{
    type:'linear', range:[-0.875, 935.125], fixedrange:true,
    rangeslider:{visible:false},
    tickmode:'array', tickvals:tickBars, ticktext:timeLabels,
    ticks:'outside', ticklen:5, tickcolor:'#000', tickwidth:1,
    ticklabelposition:'outside right',
    tickfont:{family:UI_FONT, size:18, color:'#000'},
    showgrid:true, gridcolor:GRID, griddash:'3px,3px', gridwidth:1,
    minor:{tickmode:'linear', tick0:0, dtick:16, showgrid:true, gridcolor:GRID, griddash:'3px,3px', gridwidth:1, ticks:''},
    showline:true, linecolor:'#000', linewidth:1, mirror:true, zeroline:false
  },
  yaxis:{
    side:'right', range:Y_RANGE, fixedrange:true,
    tickmode:'array', tickvals:priceTicks, ticktext:priceTicks.map(v => v.toFixed(3)),
    ticks:'outside', ticklen:4, tickcolor:'#000', tickwidth:1,
    ticklabelstandoff:2,
    tickfont:{family:UI_FONT, size:18, color:'#000'},
    showgrid:true, gridcolor:GRID, griddash:'3px,3px', gridwidth:1,
    showline:true, linecolor:'#000', linewidth:1, mirror:true, zeroline:false
  },
  shapes:shapes,
  annotations:annotations
};

Plotly.newPlot('chart', [levelText, candles, signal], layout, {staticPlot:true, displayModeBar:false});
</script>
</body>
</html>
